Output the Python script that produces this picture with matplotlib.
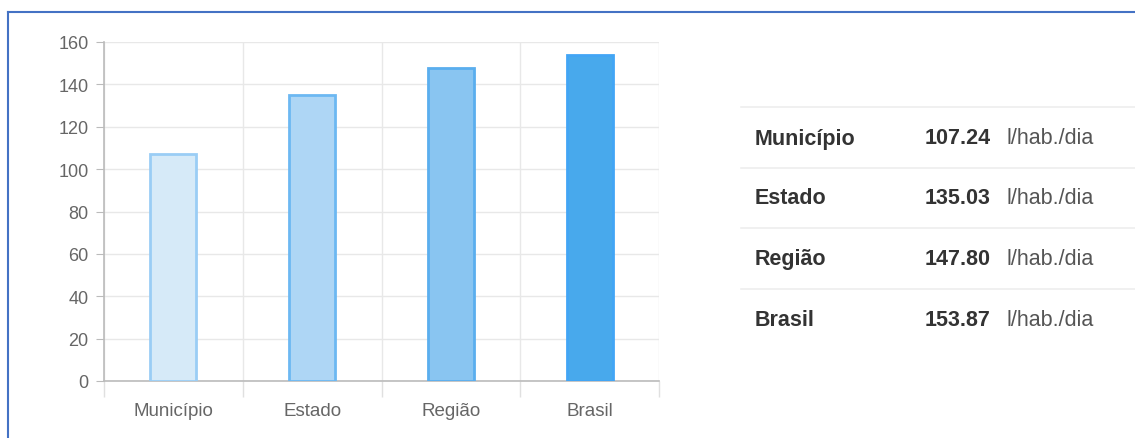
import matplotlib
matplotlib.use("Agg")
from matplotlib import pyplot as plt
from matplotlib.lines import Line2D

categories = ['Município', 'Estado', 'Região', 'Brasil']
values = [107.24, 135.03, 147.80, 153.87]
value_labels = ['107.24', '135.03', '147.80', '153.87']
unit = 'l/hab./dia'
y_ticks = [0, 20, 40, 60, 80, 100, 120, 140, 160]

fills = ['#d6eaf8', '#aed6f5', '#89c5f1', '#48a9ec']
edges = ['#9acdf5', '#6cb8f2', '#5aaeee', '#42a5f5']

plt.rcParams['font.family'] = ['Liberation Sans', 'DejaVu Sans']

W, H = 1135, 439
fig = plt.figure(figsize=(W / 100, H / 100), dpi=100)
ax = fig.add_axes([104 / W, 1 - 382 / H, (659 - 104) / W, (382 - 43) / H])

x = list(range(len(categories)))
ax.bar(x, values, width=0.33, color=fills, edgecolor=edges, linewidth=2, zorder=3)

ax.set_xlim(-0.5, len(categories) - 0.5)
ax.set_ylim(0, 160)
ax.set_yticks(y_ticks)
ax.set_yticklabels([str(t) for t in y_ticks], fontsize=13, color='#666666')
ax.set_xticks(x)
ax.set_xticklabels(categories, fontsize=13.5, color='#666666')
ax.set_xticks([i - 0.5 for i in range(len(categories) + 1)], minor=True)

ax.tick_params(axis='x', which='major', length=0, pad=15)
ax.tick_params(axis='x', which='minor', length=11.5, color='#e0e0e0', width=1)
ax.tick_params(axis='y', length=6, color='#bbbbbb', pad=5)

ax.grid(True, which='minor', axis='x', color='#e8e8e8', linewidth=1, zorder=0)
ax.grid(True, which='major', axis='y', color='#e8e8e8', linewidth=1, zorder=0)

for side in ['top', 'right']:
    ax.spines[side].set_visible(False)
for side in ['left', 'bottom']:
    ax.spines[side].set_color('#bbbbbb')
    ax.spines[side].set_linewidth(1.2)

# table on the right
row_lines = [108, 169, 229, 290]
row_text = [139, 199, 260, 320]
for yl in row_lines:
    fig.add_artist(Line2D([741 / W, 1.0], [1 - yl / H, 1 - yl / H], color='#eeeeee', linewidth=1.2))
for i, cat in enumerate(categories):
    yy = 1 - row_text[i] / H
    fig.text(755 / W, yy, cat, fontsize=15.5, fontweight='bold', color='#333333', va='center')
    fig.text(925 / W, yy, value_labels[i], fontsize=15.5, fontweight='bold', color='#333333', va='center')
    fig.text(1007 / W, yy, unit, fontsize=15.5, color='#555555', va='center')

# blue frame
fig.add_artist(Line2D([8 / W, 1.0], [1 - 13 / H, 1 - 13 / H], color='#4472c4', linewidth=1.5))
fig.add_artist(Line2D([8 / W, 8 / W], [0, 1 - 13 / H], color='#4472c4', linewidth=1.5))

fig.savefig('out.png', dpi=100)
